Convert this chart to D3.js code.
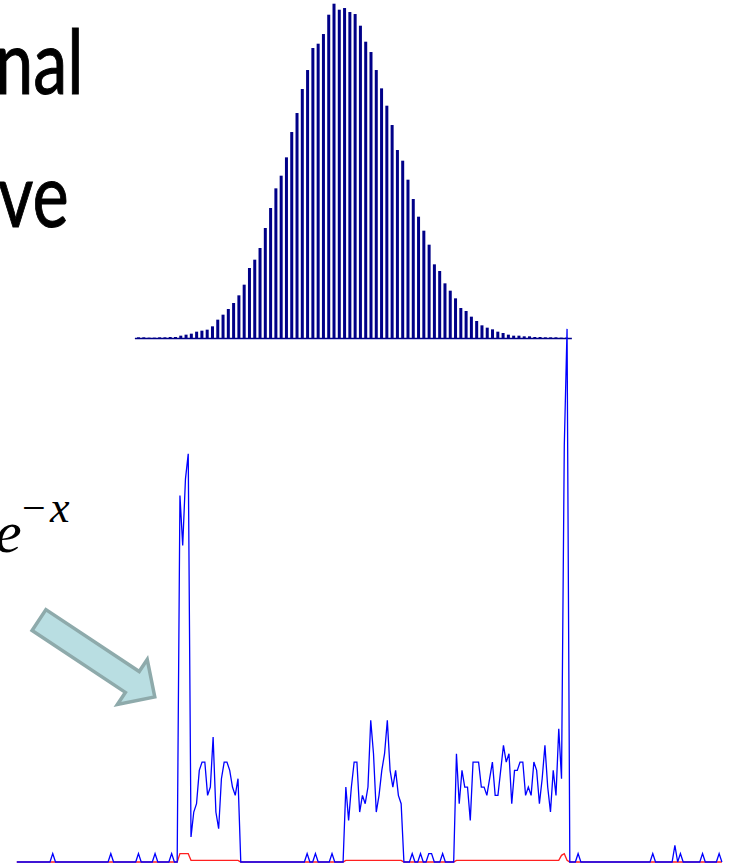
<!DOCTYPE html>
<html>
<head>
<meta charset="utf-8">
<script src="https://cdnjs.cloudflare.com/ajax/libs/d3/7.8.5/d3.min.js"></script>
<style>
  html, body { margin: 0; padding: 0; background: #fff; }
  svg { display: block; }
</style>
</head>
<body>
<script>
// top histogram, relative frequency (x1000) per bin
const histValues = [
  2, 2, 1, 1, 2, 2, 3, 3, 7, 10, 13, 19, 22, 25, 35, 55,
  70, 87, 105, 128, 160, 210, 235, 270, 330, 390, 449, 487, 542, 618, 675, 747,
  804, 870, 883, 912, 970, 1003, 985, 990, 978, 972, 937, 889, 858, 804, 749, 697,
  639, 564, 532, 475, 417, 364, 322, 280, 221, 201, 164, 142, 119, 90, 81, 64,
  51, 38, 31, 26, 19, 15, 10, 7, 7, 5, 5, 3, 3, 2, 2, 2,
  1, 1
];

// bottom chart, 256 bins
const blueCounts = [
  0, 0, 0, 0, 0, 0, 0, 0, 0, 0, 0, 0, 0, 1, 0, 0,
  0, 0, 0, 0, 0, 0, 0, 0, 0, 0, 0, 0, 0, 0, 0, 0,
  0, 0, 1, 0, 0, 0, 0, 0, 0, 0, 0, 0, 1, 0, 0, 0,
  0, 0, 1, 0, 0, 0, 0, 0, 1, 0, 0, 44, 38, 46, 49, 3,
  6, 7, 11, 12, 12, 8, 9, 15, 6, 4, 10, 12, 12, 11, 9, 8,
  10, 0, 0, 0, 0, 0, 0, 0, 0, 0, 0, 0, 0, 0, 0, 0,
  0, 0, 0, 0, 0, 0, 0, 0, 0, 1, 0, 0, 1, 0, 0, 0,
  0, 0, 1, 0, 0, 0, 0, 9, 5, 9, 12, 12, 6, 8, 7, 9,
  17, 13, 6, 8, 11, 13, 17, 11, 9, 11, 8, 7, 0, 0, 0, 1,
  0, 0, 1, 0, 0, 1, 1, 0, 0, 0, 1, 0, 0, 0, 0, 13,
  7, 11, 9, 9, 5, 12, 12, 12, 9, 9, 8, 10, 12, 8, 8, 11,
  14, 12, 13, 7, 11, 11, 12, 12, 8, 9, 8, 12, 11, 7, 10, 14,
  9, 6, 11, 8, 16, 10, 50, 64, 0, 0, 0, 1, 0, 0, 0, 0,
  0, 0, 0, 0, 0, 0, 0, 0, 0, 0, 0, 0, 0, 0, 0, 0,
  0, 0, 0, 0, 0, 0, 1, 0, 0, 0, 0, 0, 0, 0, 2, 0,
  1, 0, 0, 0, 0, 0, 0, 0, 1, 0, 0, 0, 0, 0, 1, 0
];

const redCounts = [
  0, 0, 0, 0, 0, 0, 0, 0, 0, 0, 0, 0, 0, 0, 0, 0,
  0, 0, 0, 0, 0, 0, 0, 0, 0, 0, 0, 0, 0, 0, 0, 0,
  0, 0, 0, 0, 0, 0, 0, 0, 0, 0, 0, 0, 0, 0, 0, 0,
  0, 0, 0, 0, 0, 0, 0, 0, 0, 0, 0, 1, 1, 1, 1, .2,
  .2, .2, .2, .2, .2, .2, .2, .2, .2, .2, .2, .2, .2, .2, .2, .2,
  .2, 0, 0, 0, 0, 0, 0, 0, 0, 0, 0, 0, 0, 0, 0, 0,
  0, 0, 0, 0, 0, 0, 0, 0, 0, 0, 0, 0, 0, 0, 0, 0,
  0, 0, 0, 0, 0, 0, 0, .2, .2, .2, .2, .2, .2, .2, .2, .2,
  .2, .2, .2, .2, .2, .2, .2, .2, .2, .2, .2, .2, 0, 0, 0, 0,
  0, 0, 0, 0, 0, 0, 0, 0, 0, 0, 0, 0, 0, 0, 0, .2,
  .2, .2, .2, .2, .2, .2, .2, .2, .2, .2, .2, .2, .2, .2, .2, .2,
  .2, .2, .2, .2, .2, .2, .2, .2, .2, .2, .2, .2, .2, .2, .2, .2,
  .2, .2, .2, .2, .2, .8, 1, .2, 0, 0, 0, 0, 0, 0, 0, 0,
  0, 0, 0, 0, 0, 0, 0, 0, 0, 0, 0, 0, 0, 0, 0, 0,
  0, 0, 0, 0, 0, 0, 0, 0, 0, 0, 0, 0, 0, 0, 0, 0,
  0, 0, 0, 0, 0, 0, 0, 0, 0, 0, 0, 0, 0, 0, 0, 0
];

const textLines = ["nal", "ve"];

const width = 732, height = 865;

const svg = d3.select("body").append("svg")
  .attr("width", width)
  .attr("height", height);

// slide text (cut at the left edge)
svg.selectAll("text.title")
  .data(textLines)
  .enter().append("text")
    .attr("class", "title")
    .attr("transform", (d, i) => `translate(${i == 0 ? -5 : -2}, ${i == 0 ? 94 : 227}) scale(0.77, 1)`)
    .attr("font-family", "Lato, 'Open Sans', sans-serif")
    .attr("font-size", 89)
    .attr("fill", "#000")
    .attr("stroke", "#000")
    .attr("stroke-width", 1)
    .text(d => d);

// e^-x
const formula = svg.append("text")
  .attr("font-family", "'Liberation Serif', 'DejaVu Serif', serif")
  .attr("fill", "#000");
formula.append("tspan")
  .attr("x", -5).attr("y", 552)
  .attr("font-size", 60).attr("font-style", "italic")
  .text("e");
formula.append("tspan")
  .attr("x", 22).attr("y", 522)
  .attr("font-size", 42)
  .text("\u2212");
formula.append("tspan")
  .attr("x", 50).attr("y", 522)
  .attr("font-size", 44).attr("font-style", "italic")
  .text("x");

// arrow
svg.append("path")
  .attr("d", "M0,-12.5 L112,-12.5 L112,-27 L139,0 L112,27 L112,12.5 L0,12.5 Z")
  .attr("transform", "translate(39,620) rotate(33.6)")
  .attr("fill", "#b9dee2")
  .attr("stroke", "#8eaaab")
  .attr("stroke-width", 3.5)
  .attr("stroke-linejoin", "miter");

// top histogram
const xHist = d3.scaleLinear().domain([0, histValues.length - 1]).range([137, 565]);
const yHist = d3.scaleLinear().domain([0, 1000]).range([338, 4.7]);

svg.append("line")
  .attr("x1", xHist(-0.4)).attr("x2", xHist(82.3))
  .attr("y1", 338.5).attr("y2", 338.5)
  .attr("stroke", "#000088")
  .attr("stroke-width", 1.6);

svg.append("g").selectAll("rect")
  .data(histValues)
  .enter().append("rect")
    .attr("x", (d, i) => xHist(i))
    .attr("y", d => yHist(d))
    .attr("width", 3)
    .attr("height", d => yHist(0) - yHist(d))
    .attr("fill", "#000088");

// bottom lines
const xLine = d3.scaleLinear().domain([0, 255]).range([16.8, 721.9]);
const yLine = d3.scaleLinear().domain([0, 65]).range([862, 862 - 65 * 8.33]);

const line = d3.line()
  .x((d, i) => xLine(i))
  .y(d => yLine(d));

svg.append("path")
  .datum(redCounts)
  .attr("d", line)
  .attr("fill", "none")
  .attr("stroke", "#ff2020")
  .attr("stroke-width", 1.3);

svg.append("path")
  .datum(blueCounts)
  .attr("d", line)
  .attr("fill", "none")
  .attr("stroke", "#0000ff")
  .attr("stroke-width", 1.3);
</script>
</body>
</html>
